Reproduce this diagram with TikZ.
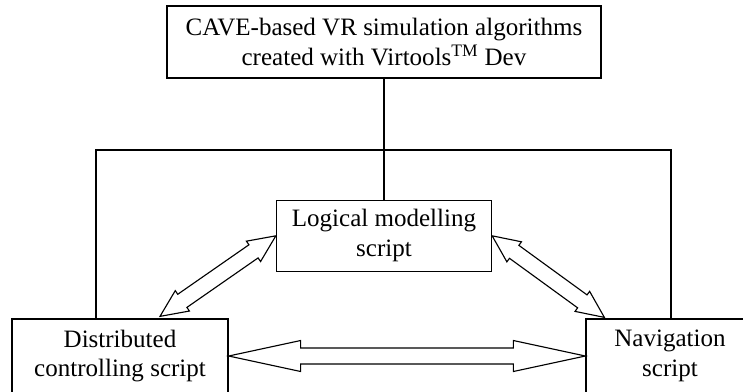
\documentclass[tikz,border=0pt]{standalone}
\usepackage{fontspec}
\setmainfont{Liberation Serif}
\usepackage{tikz}
\usetikzlibrary{positioning,calc}
\tikzset{
  fat/.style={line width=0.8pt, draw=black, fill=white, line join=miter},
  every node/.style={anchor=center}
}
% hollow double-headed arrow: from, to, head length, head half width, shaft half width
\newcommand{\fatarrow}[5]{%
  \draw[fat]
    (#1) -- ($(#1)!#3!(#2)!#4!90:(#2)$) -- ($(#1)!#3!(#2)!#5!90:(#2)$)
    -- ($(#2)!#3!(#1)!#5!-90:(#1)$) -- ($(#2)!#3!(#1)!#4!-90:(#1)$)
    -- (#2) -- ($(#2)!#3!(#1)!#4!90:(#1)$) -- ($(#2)!#3!(#1)!#5!90:(#1)$)
    -- ($(#1)!#3!(#2)!#5!-90:(#2)$) -- ($(#1)!#3!(#2)!#4!-90:(#2)$) -- cycle;}

\begin{document}
\begin{tikzpicture}[
  x=0.025cm, y=-0.025cm,
  font=\fontsize{17.8}{21.3}\selectfont,
  line/.style={line width=0.8pt, draw=black},
  box/.style={draw=black, fill=white, line width=0.9pt, inner sep=0pt, align=center},
  topbox/.style={box, minimum width=10.85cm, minimum height=1.8cm},
  scriptbox/.style={box, minimum width=5.4cm, minimum height=1.85cm}
]
\useasboundingbox (0,0) rectangle (743,391);
\node[topbox] (cave) at (384,42) {CAVE-based VR simulation algorithms\\created with Virtools\textsuperscript{TM} Dev};
\node[box, minimum width=5.375cm, minimum height=1.775cm, below=3.025cm of cave] (logic) {Logical modelling\\script};
\node[scriptbox] (dist) at (120,356) {Distributed\\controlling script};
\node[scriptbox, minimum width=4.2cm] (nav) at (670,356) {Navigation\\script};
\coordinate (fl) at (96,150);
\coordinate (fr) at (671,150);
\coordinate (dtip) at ($(dist.north)+(40,-2)$);
\coordinate (ntip) at ($(nav.north west)+(19,-1)$);
\draw[line] (cave) -- (logic);
\draw[line] (fl |- dist.north) -- (fl) -- (fr) -- (fr |- nav.north);
\fatarrow{logic.west}{dtip}{0.68cm}{0.31cm}{0.2cm}
\fatarrow{logic.east}{ntip}{0.68cm}{0.31cm}{0.2cm}
\fatarrow{dist.east}{nav.west}{1.8cm}{0.3875cm}{0.2cm}
\end{tikzpicture}
\end{document}
